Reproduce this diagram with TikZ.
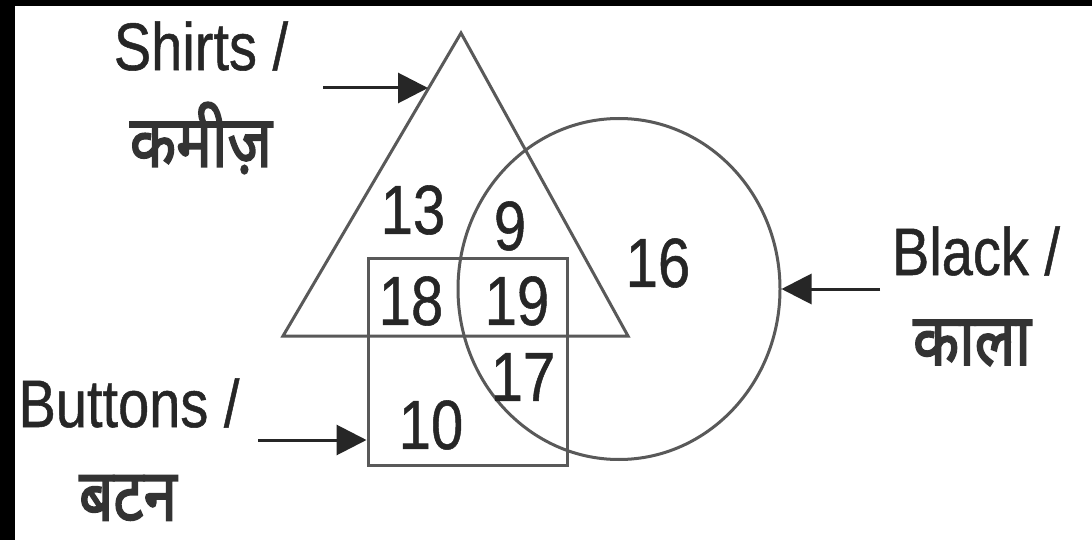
\documentclass[tikz,border=0pt]{standalone}
\usepackage{fontspec}
\usepackage{graphicx}
\setmainfont{Liberation Sans}
\newfontfamily\latn[FakeBold=0.8]{Liberation Sans}
\newfontfamily\deva[Script=Devanagari,FakeBold=2.5]{Noto Sans}
\usetikzlibrary{arrows.meta,shapes.geometric}
\newcommand\vs[1]{\scalebox{1}[1.2]{#1}}
\begin{document}
\begin{tikzpicture}[x=1pt,y=-1pt,
  shape line/.style={draw=black!65,line width=3pt},
  num/.style={text=black!85,font=\latn\fontsize{58}{60}\selectfont,inner sep=0pt},
  lab/.style={text=black!85,font=\latn\fontsize{56}{60}\selectfont,inner sep=0pt},
  dlab/.style={text=black!80,font=\deva\fontsize{60}{60}\selectfont,inner sep=0pt},
  pointer/.style={draw=black!85,line width=3pt,-{Triangle[length=30pt,width=30pt]}}]
\useasboundingbox (0,0) rectangle (1092,540);
\fill[black] (0,0) rectangle (1092,540);
\fill[white] (15,6) rectangle (1092,540);
% shapes
\coordinate (apex) at (461,33);
\coordinate (bl) at (283,336);
\coordinate (br) at (628,336);
\draw[shape line,line join=miter] (apex) -- (bl) -- (br) -- cycle;
\node[shape line,ellipse,minimum width=322pt,minimum height=341pt,inner sep=0pt] (black) at (619,289) {};
\node[shape line,rectangle,minimum width=199pt,minimum height=207pt,inner sep=0pt] (buttons) at (467.5,361.5) {};
% numbers
\node[num] (n13) at (413,210) {\vs{13}};
\node[num] (n9) at (510,226) {\vs{9}};
\node[num] (n18) at (411,301) {\vs{18}};
\node[num] (n19) at (517,301) {\vs{19}};
\node[num] (n17) at (523,377) {\vs{17}};
\node[num] (n10) at (431,425) {\vs{10}};
\node[num] (n16) at (658,263) {\vs{16}};
% labels
\node[lab] (shirts) at (201,46) {\vs{Shirts /}};
\node[dlab] (kamiz) at (201,138) {\vs{कमीज़}};
\node[lab] (blk) at (976,251) {\vs{Black /}};
\node[dlab] (kala) at (972,343) {\vs{काला}};
\node[lab] (btn) at (129,403) {\vs{Buttons /}};
\node[dlab] (batan) at (128,498) {\vs{बटन}};
% pointers
\coordinate (sA) at (323,88);
\coordinate (sB) at (428,88);
\coordinate (kA) at (880,289);
\coordinate (bA) at (258,440);
\draw[pointer] (sA) -- (sB);
\draw[pointer] (kA) -- (black.east);
\draw[pointer] (bA) -- (buttons.west |- bA);
\end{tikzpicture}
\end{document}
